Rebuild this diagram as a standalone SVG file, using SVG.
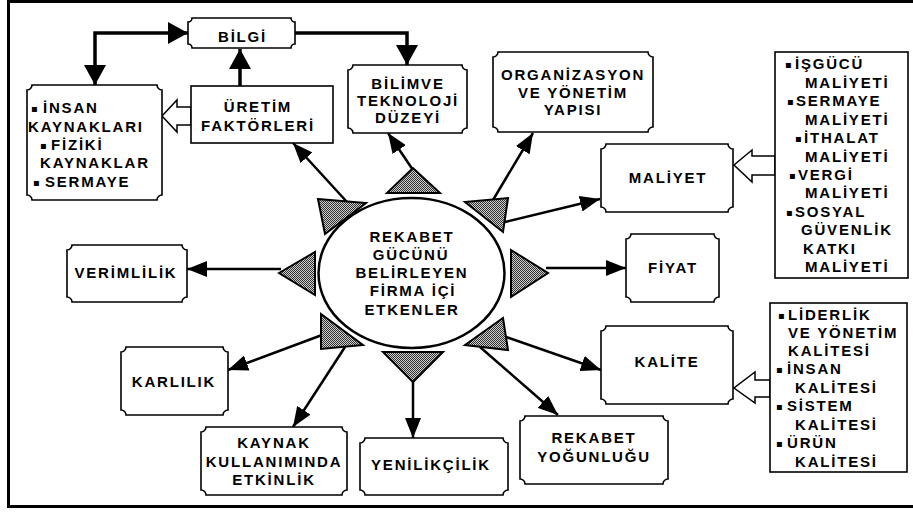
<svg xmlns="http://www.w3.org/2000/svg" width="913" height="513" viewBox="0 0 913 513">
<style>
.box{fill:#fff;stroke:#000;stroke-width:1.6}
.t{font-family:"Liberation Sans","DejaVu Sans",sans-serif;font-weight:bold;font-size:15px;letter-spacing:1.8px;fill:#000}
.c{text-anchor:middle}
.b{font-family:"DejaVu Sans","Liberation Sans",sans-serif;font-size:10px;letter-spacing:0}
.thick{fill:none;stroke:#000;stroke-width:3.5}
.arr{fill:none;stroke:#000;stroke-width:2.5}
.tri{fill:url(#dots);stroke:#000;stroke-width:2;stroke-linejoin:miter}
.hollow{fill:#fff;stroke:#000;stroke-width:1.5}
</style>
<defs>
<pattern id="dots" width="2" height="2" patternUnits="userSpaceOnUse">
<rect width="2" height="2" fill="#cfcfcf"/>
<rect width="1" height="1" fill="#303030"/>
<rect x="1" y="1" width="1" height="1" fill="#303030"/>
</pattern>
<marker id="ah" markerUnits="userSpaceOnUse" markerWidth="20" markerHeight="16" viewBox="0 0 20 16" refX="20" refY="8" orient="auto-start-reverse">
<path d="M0,0 L20,8 L0,16 Z" fill="#000"/>
</marker>
<marker id="ahb" markerUnits="userSpaceOnUse" markerWidth="20" markerHeight="22" viewBox="0 0 20 22" refX="20" refY="11" orient="auto-start-reverse">
<path d="M0,0 L20,11 L0,22 Z" fill="#000"/>
</marker>
</defs>
<rect x="8.5" y="1.5" width="920" height="505" fill="#fff" stroke="#000" stroke-width="3"/>

<g id="connectors">
<polyline class="thick" points="95,85 95,33 188,33" marker-start="url(#ahb)" marker-end="url(#ahb)"/>
<polyline class="thick" points="295,33 407,33 407,65" marker-end="url(#ahb)"/>
<line class="thick" x1="240" y1="86" x2="240" y2="49" marker-end="url(#ahb)"/>
<polygon class="hollow" points="191,107 177,107 177,100 162,116 177,132 177,125 191,125"/>
<polygon class="hollow" points="775,156 752,156 752,150 734,165 752,182 752,175 775,175"/>
<polygon class="hollow" points="770,380 755,380 755,372 734,388 755,403 755,397 770,397"/>
<line class="arr" x1="347" y1="202" x2="293" y2="143" marker-end="url(#ah)"/>
<line class="arr" x1="413" y1="170" x2="388" y2="133" marker-end="url(#ah)"/>
<line class="arr" x1="493" y1="200" x2="533" y2="133" marker-end="url(#ah)"/>
<line class="arr" x1="505" y1="222" x2="600" y2="199" marker-end="url(#ah)"/>
<line class="arr" x1="546" y1="268" x2="626" y2="268" marker-end="url(#ah)"/>
<line class="arr" x1="506" y1="337" x2="601" y2="370" marker-end="url(#ah)"/>
<line class="arr" x1="480" y1="347" x2="558" y2="415" marker-end="url(#ah)"/>
<line class="arr" x1="413" y1="380" x2="413" y2="438" marker-end="url(#ah)"/>
<line class="arr" x1="345" y1="347" x2="293" y2="427" marker-end="url(#ah)"/>
<line class="arr" x1="322" y1="335" x2="228" y2="370" marker-end="url(#ah)"/>
<line class="arr" x1="281" y1="269" x2="187" y2="269" marker-end="url(#ah)"/>
</g>

<g id="bilgi">
<path class="box" d="M192,18 H291 A4 4 0 0 0 295,22 V44 A4 4 0 0 0 291,48 H192 A4 4 0 0 0 188,44 V22 A4 4 0 0 0 192,18 Z"/>
<text class="t c" x="242.5" y="42">BİLGİ</text>
</g>

<g id="kaynaklar">
<path class="box" d="M32,85 H157 A5 5 0 0 0 162,90 V195 A5 5 0 0 0 157,200 H32 A5 5 0 0 0 27,195 V90 A5 5 0 0 0 32,85 Z"/>
<text class="t" x="31" y="112"><tspan class="b">▪</tspan><tspan x="43" y="113">İNSAN</tspan></text>
<text class="t" x="28" y="132">KAYNAKLARI</text>
<text class="t" x="40" y="149"><tspan class="b">▪</tspan><tspan x="51" y="150">FİZİKİ</tspan></text>
<text class="t" x="40" y="168">KAYNAKLAR</text>
<text class="t" x="33" y="186"><tspan class="b">▪</tspan><tspan x="45" y="187">SERMAYE</tspan></text>
</g>

<g id="uretim">
<rect class="box" x="191" y="86" width="142" height="57"/>
<text class="t c" x="258" y="112">ÜRETİM</text>
<text class="t c" x="258" y="131">FAKTÖRLERİ</text>
</g>

<g id="bilim">
<path class="box" d="M353,65 H462 A5 5 0 0 0 467,70 V128 A5 5 0 0 0 462,133 H353 A5 5 0 0 0 348,128 V70 A5 5 0 0 0 353,65 Z"/>
<text class="t c" x="408" y="89">BİLİMVE</text>
<text class="t c" x="408" y="106">TEKNOLOJİ</text>
<text class="t c" x="408" y="123">DÜZEYİ</text>
</g>

<g id="organizasyon">
<path class="box" d="M498,52 H648 A5 5 0 0 0 653,57 V127 A5 5 0 0 0 648,132 H498 A5 5 0 0 0 493,127 V57 A5 5 0 0 0 498,52 Z"/>
<text class="t c" x="573" y="80">ORGANİZASYON</text>
<text class="t c" x="573" y="98">VE YÖNETİM</text>
<text class="t c" x="573" y="115">YAPISI</text>
</g>

<g id="maliyet-list">
<rect class="box" x="775" y="52" width="133" height="226"/>
<text class="t" x="785" y="68"><tspan class="b">▪</tspan><tspan x="795" y="69">İŞGÜCÜ</tspan></text>
<text class="t" x="805" y="87.5">MALİYETİ</text>
<text class="t" x="787" y="105"><tspan class="b">▪</tspan><tspan x="796" y="106">SERMAYE</tspan></text>
<text class="t" x="805" y="124.5">MALİYETİ</text>
<text class="t" x="795" y="142"><tspan class="b">▪</tspan><tspan x="804" y="143">İTHALAT</tspan></text>
<text class="t" x="805" y="161.5">MALİYETİ</text>
<text class="t" x="789" y="179"><tspan class="b">▪</tspan><tspan x="798" y="180">VERGİ</tspan></text>
<text class="t" x="805" y="198">MALİYETİ</text>
<text class="t" x="786" y="216"><tspan class="b">▪</tspan><tspan x="795" y="217">SOSYAL</tspan></text>
<text class="t" x="801" y="235">GÜVENLİK</text>
<text class="t" x="803" y="253.5">KATKI</text>
<text class="t" x="805" y="272">MALİYETİ</text>
</g>

<g id="maliyet">
<path class="box" d="M606,144 H728 A5 5 0 0 0 733,149 V207 A5 5 0 0 0 728,212 H606 A5 5 0 0 0 601,207 V149 A5 5 0 0 0 606,144 Z"/>
<text class="t c" x="668" y="183">MALİYET</text>
</g>

<g id="fiyat">
<path class="box" d="M631,234 H714 A5 5 0 0 0 719,239 V297 A5 5 0 0 0 714,302 H631 A5 5 0 0 0 626,297 V239 A5 5 0 0 0 631,234 Z"/>
<text class="t c" x="673" y="273">FİYAT</text>
</g>

<g id="kalite-list">
<rect class="box" x="770" y="303" width="137" height="169"/>
<text class="t" x="778" y="319"><tspan class="b">▪</tspan><tspan x="788" y="320">LİDERLİK</tspan></text>
<text class="t" x="788" y="338">VE YÖNETİM</text>
<text class="t" x="788" y="356">KALİTESİ</text>
<text class="t" x="776" y="373"><tspan class="b">▪</tspan><tspan x="787" y="374">İNSAN</tspan></text>
<text class="t" x="795" y="393">KALİTESİ</text>
<text class="t" x="776" y="410"><tspan class="b">▪</tspan><tspan x="787" y="411">SİSTEM</tspan></text>
<text class="t" x="795" y="430">KALİTESİ</text>
<text class="t" x="776" y="447"><tspan class="b">▪</tspan><tspan x="787" y="448">ÜRÜN</tspan></text>
<text class="t" x="795" y="467">KALİTESİ</text>
</g>

<g id="kalite">
<path class="box" d="M606,326 H728 A5 5 0 0 0 733,331 V399 A5 5 0 0 0 728,404 H606 A5 5 0 0 0 601,399 V331 A5 5 0 0 0 606,326 Z"/>
<text class="t c" x="667" y="367">KALİTE</text>
</g>

<g id="rekabet-yogunlugu">
<path class="box" d="M525,416 H663 A5 5 0 0 0 668,421 V479 A5 5 0 0 0 663,484 H525 A5 5 0 0 0 520,479 V421 A5 5 0 0 0 525,416 Z"/>
<text class="t c" x="594" y="443">REKABET</text>
<text class="t c" x="594" y="462">YOĞUNLUĞU</text>
</g>

<g id="yenilikcilik">
<path class="box" d="M365,438 H503 A5 5 0 0 0 508,443 V490 A5 5 0 0 0 503,495 H365 A5 5 0 0 0 360,490 V443 A5 5 0 0 0 365,438 Z"/>
<text class="t c" x="431" y="470">YENİLİKÇİLİK</text>
</g>

<g id="kaynak-kullanimi">
<path class="box" d="M206,427 H342 A5 5 0 0 0 347,432 V490 A5 5 0 0 0 342,495 H206 A5 5 0 0 0 201,490 V432 A5 5 0 0 0 206,427 Z"/>
<text class="t c" x="274" y="448">KAYNAK</text>
<text class="t c" x="274" y="467">KULLANIMINDA</text>
<text class="t c" x="274" y="485">ETKİNLİK</text>
</g>

<g id="karlilik">
<path class="box" d="M126,347 H223 A5 5 0 0 0 228,352 V410 A5 5 0 0 0 223,415 H126 A5 5 0 0 0 121,410 V352 A5 5 0 0 0 126,347 Z"/>
<text class="t c" x="174" y="387">KARLILIK</text>
</g>

<g id="verimlilik">
<path class="box" d="M72,245 H182 A5 5 0 0 0 187,250 V297 A5 5 0 0 0 182,302 H72 A5 5 0 0 0 67,297 V250 A5 5 0 0 0 72,245 Z"/>
<text class="t c" x="126" y="278">VERİMLİLİK</text>
</g>

<g id="merkez">
<ellipse cx="411.5" cy="273" rx="93" ry="75" fill="#fff" stroke="#000" stroke-width="2.5"/>
<polygon class="tri" points="413,168 387,193 440,193"/>
<polygon class="tri" points="318,199 366,203 325,234"/>
<polygon class="tri" points="279,273 315,252 315,295"/>
<polygon class="tri" points="321,314 363,345 321,349"/>
<polygon class="tri" points="383,352 443,352 413,382"/>
<polygon class="tri" points="465,345 503,318 508,350"/>
<polygon class="tri" points="511,250 548,273 511,297"/>
<polygon class="tri" points="465,202 508,198 503,232"/>
<text class="t c" x="412" y="242">REKABET</text>
<text class="t c" x="411" y="260">GÜCÜNÜ</text>
<text class="t c" x="412" y="278">BELİRLEYEN</text>
<text class="t c" x="413" y="296">FİRMA İÇİ</text>
<text class="t c" x="412" y="315">ETKENLER</text>
</g>
</svg>
